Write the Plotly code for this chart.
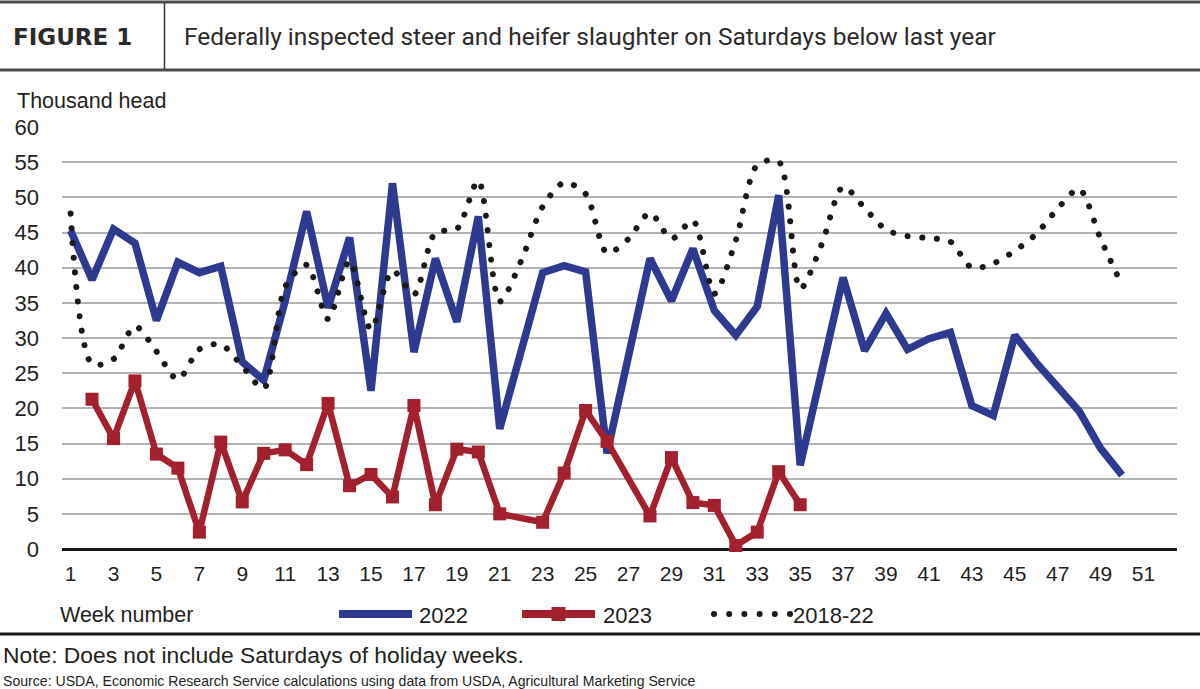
import plotly.graph_objects as go

# ---------------- data ----------------
weeks = list(range(1, 51))
y2022 = [45.3, 38.3, 45.5, 43.5, 32.5, 40.8, 39.3, 40.2, 26.6, 24.0,
         35.3, 48.0, 34.3, 44.3, 22.5, 52.0, 28.0, 41.3, 32.3, 47.3,
         17.1, None, 39.3, 40.3, 39.4, 13.6, None, 41.3, 35.3, 42.7,
         33.9, 30.4, 34.5, 50.3, 11.9, None, 38.6, 28.2, 33.5, 28.4,
         29.9, 30.8, 20.4, 19.0, 30.4, 26.5, None, 19.6, 14.3, 10.5]
weeks_2023 = list(range(1, 36))
y2023 = [None, 21.3, 15.7, 23.9, 13.5, 11.5, 2.4, 15.2, 6.7, 13.6,
         14.1, 12.0, 20.7, 9.0, 10.6, 7.4, 20.4, 6.3, 14.2, 13.8,
         5.0, None, 3.8, 10.8, 19.7, 15.3, None, 4.7, 13.0, 6.6,
         6.2, 0.5, 2.4, 11.0, 6.3]
y_avg = [47.7, 26.3, 27.0, 31.7, 28.1, 24.1, 28.4, 29.1, 26.0, 22.8,
         37.3, 40.4, 32.7, 41.0, 31.2, 39.6, 36.2, 45.0, 45.5, 52.4,
         35.2, 41.0, 48.7, 52.1, 50.5, 42.1, 44.1, 47.8, 44.1, 46.7,
         36.3, 43.9, 54.6, 55.1, 37.0, 43.3, 51.5, 48.5, 45.4, 44.5,
         44.2, 43.7, 40.0, 40.6, 42.4, 44.8, 48.4, 51.2, 44.1, 37.5]
series_names = ["2022", "2023", "2018-22"]
xtick_vals = list(range(1, 52, 2))
xtick_text = [str(v) for v in xtick_vals]
ytick_vals = list(range(0, 61, 5))

# ---------------- style ----------------
BLUE = "#2e3a8f"
RED = "#a3202f"
DOT = "#1a1a1a"
TXT = "#231f20"
NARROW = "Liberation Sans Narrow, Arial Narrow, Liberation Sans, sans-serif"
REG = "Liberation Sans, Arial, sans-serif"
CH = 21  # chart text size

W, H = 1200, 689
L, R, T, B = 62, 1177, 127, 549


def xp(px):
    return (px - L) / (R - L)


def yp(py):
    return (B - py) / (B - T)


fig = go.Figure()
fig.add_trace(go.Scatter(x=weeks, y=y2022, name=series_names[0], mode="lines",
                         connectgaps=True, line=dict(color=BLUE, width=7.5),
                         cliponaxis=False))
fig.add_trace(go.Scatter(x=weeks_2023, y=y2023, name=series_names[1], mode="lines+markers",
                         connectgaps=True, line=dict(color=RED, width=6.5),
                         marker=dict(symbol="square", size=13, color=RED),
                         cliponaxis=False))
fig.add_trace(go.Scatter(x=weeks, y=y_avg, name=series_names[2], mode="lines",
                         line=dict(color=DOT, width=6, dash="6px,8.6px", shape="spline",
                                   smoothing=0.8),
                         cliponaxis=False))

shapes = []
# header lines
shapes.append(dict(type="line", xref="paper", yref="paper", x0=xp(0), x1=xp(W),
                   y0=yp(2), y1=yp(2), line=dict(color="#4a4a4a", width=3)))
shapes.append(dict(type="line", xref="paper", yref="paper", x0=xp(0), x1=xp(W),
                   y0=yp(70), y1=yp(70), line=dict(color="#4a4a4a", width=3)))
shapes.append(dict(type="line", xref="paper", yref="paper", x0=xp(164.5), x1=xp(164.5),
                   y0=yp(3), y1=yp(69), line=dict(color="#333333", width=1.5)))
# footer separator
shapes.append(dict(type="line", xref="paper", yref="paper", x0=xp(0), x1=xp(W),
                   y0=yp(634), y1=yp(634), line=dict(color="#1a1a1a", width=3)))
# legend symbols
LY = 614
shapes.append(dict(type="line", xref="paper", yref="paper", x0=xp(339), x1=xp(412),
                   y0=yp(LY), y1=yp(LY), line=dict(color=BLUE, width=8)))
shapes.append(dict(type="line", xref="paper", yref="paper", x0=xp(522), x1=xp(595),
                   y0=yp(LY), y1=yp(LY), line=dict(color=RED, width=8)))
shapes.append(dict(type="rect", xref="paper", yref="paper", x0=xp(551.5), x1=xp(565.5),
                   y0=yp(LY + 7), y1=yp(LY - 7), fillcolor=RED, line=dict(width=0)))
for i in range(6):
    cx = 714 + i * 15.2
    shapes.append(dict(type="circle", xref="paper", yref="paper",
                       x0=xp(cx - 3), x1=xp(cx + 3), y0=yp(LY + 3), y1=yp(LY - 3),
                       fillcolor=DOT, line=dict(width=0)))

annotations = []


def add_text(text, px, py, size, family=NARROW, bold=False, color=TXT):
    annotations.append(dict(text=("<b>%s</b>" % text) if bold else text,
                            xref="paper", yref="paper", x=xp(px), y=yp(py),
                            xanchor="left", yanchor="middle", showarrow=False,
                            font=dict(size=size, family=family, color=color)))


add_text("FIGURE 1", 11, 37, 23, family="DejaVu Sans, sans-serif", bold=True, color="#2b2b2b")
add_text("Federally inspected steer and heifer slaughter on Saturdays below last year",
         182, 37, 24.5, family="Roboto, sans-serif", color="#2b2b2b")
add_text("Thousand head", 15, 101, CH + 0.5)
add_text("Week number", 58, 615, CH + 0.5)
add_text(series_names[0], 417, 615, CH + 1)
add_text(series_names[1], 601, 615, CH + 1)
add_text(series_names[2], 791, 615, CH + 1)
add_text("Note: Does not include Saturdays of holiday weeks.", 1, 655, 22.8, family=REG)
add_text("Source: USDA, Economic Research Service calculations using data from USDA, "
         "Agricultural Marketing Service", 1, 681, 14.1, family=REG)

fig.update_layout(
    width=W, height=H,
    margin=dict(l=L, r=W - R, t=T, b=H - B, pad=0),
    paper_bgcolor="white", plot_bgcolor="white",
    showlegend=False,
    hovermode=False,
    shapes=shapes,
    annotations=annotations,
    xaxis=dict(range=[0.6, 52.56], tickmode="array", tickvals=xtick_vals, ticktext=xtick_text,
               showgrid=False, zeroline=False, showline=False, ticks="",
               tickfont=dict(size=CH, family=NARROW, color=TXT), ticklabelstandoff=10),
    yaxis=dict(range=[0, 60.01], tickmode="array", tickvals=ytick_vals,
               showgrid=True, gridcolor="#b3b3b3", gridwidth=2,
               zeroline=True, zerolinecolor="#1a1a1a", zerolinewidth=2.5,
               showline=False, ticks="",
               tickfont=dict(size=CH + 1, family=NARROW, color=TXT), ticklabelstandoff=22),
)

post = """
var gd = document.getElementById('{plot_id}');
try {
  var tr = gd.querySelectorAll('.scatterlayer .trace');
  if (tr.length > 2) {
    var p = tr[2].querySelector('path.js-line');
    if (p) { p.style.strokeLinecap = 'round'; p.style.strokeDasharray = '0.1px,14.6px'; }
  }
} catch (e) {}
"""

fig.write_html("out.html", post_script=post)
